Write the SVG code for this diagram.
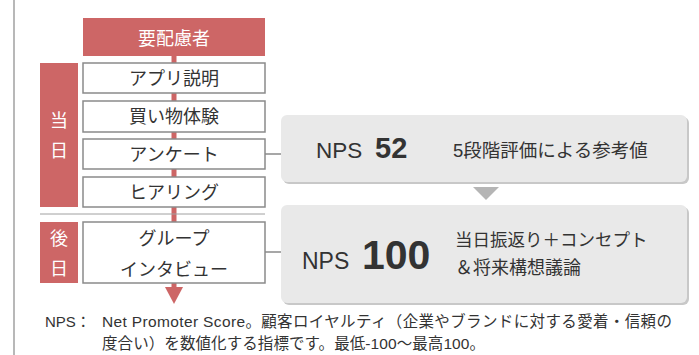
<svg xmlns="http://www.w3.org/2000/svg" width="699" height="355" viewBox="0 0 699 355">
<style>
text{font-family:"Liberation Sans","Noto Sans CJK JP",sans-serif;fill:#333}
.red{fill:#CD6666}
.box{fill:#fff;stroke:#8a8a8a;stroke-width:1.5}
.lbl{font-size:18px;text-anchor:middle}
.side{font-size:18px;text-anchor:middle;fill:#fff}
.nps{fill:#E9E9E9}
.sh{fill:#c8c8c8}
.gl{stroke:#8a8a8a;stroke-width:1.5;fill:none}
</style>
<line x1="14" y1="0" x2="14" y2="355" stroke="#a0a0a0" stroke-width="1.5"/>
<g id="connectors">
<line x1="174" y1="56" x2="174" y2="288" stroke="#CD6666" stroke-width="5"/>
<polygon points="165,287 183,287 174,304" class="red"/>
<line class="gl" x1="265" y1="154" x2="282" y2="154"/>
<line class="gl" x1="265" y1="252" x2="282" y2="252"/>
<polygon points="473,187 499,187 486,200" fill="#b5b5b5"/>
<line x1="40" y1="214" x2="265" y2="214" stroke="#a0a0a0" stroke-width="1"/>
</g>
<g id="header"><rect x="83" y="18" width="182" height="38" class="red"/><text x="174" y="45" class="side">要配慮者</text></g>
<g id="day-same"><rect x="40" y="63" width="38" height="144" class="red"/><text x="59" y="127" class="side">当</text><text x="59" y="157" class="side">日</text></g>
<g id="day-later"><rect x="40" y="222" width="38" height="61" class="red"/><text x="59" y="245" class="side">後</text><text x="59" y="275" class="side">日</text></g>
<g id="app"><rect x="83" y="63" width="182" height="30" class="box"/><text x="174" y="84.5" class="lbl">アプリ説明</text></g>
<g id="shop"><rect x="83" y="101" width="182" height="31" class="box"/><text x="174" y="123" class="lbl">買い物体験</text></g>
<g id="survey"><rect x="83" y="139" width="182" height="30" class="box"/><text x="174" y="160.5" class="lbl">アンケート</text></g>
<g id="hearing"><rect x="83" y="177" width="182" height="30" class="box"/><text x="174" y="198.5" class="lbl">ヒアリング</text></g>
<g id="group"><rect x="83" y="222" width="182" height="61" class="box"/><text x="174" y="244.5" class="lbl">グループ</text><text x="174" y="276" class="lbl">インタビュー</text></g>
<g id="nps52"><rect x="283" y="117" width="406" height="67" rx="6" class="sh"/><rect x="281" y="115" width="406" height="67" rx="6" class="nps"/>
<text x="316" y="158" font-size="22.5">NPS</text><text x="375" y="158" font-size="29" font-weight="bold">52</text>
<text x="453" y="157" font-size="18.5">5段階評価による参考値</text></g>
<g id="nps100"><rect x="283" y="207" width="406" height="98" rx="6" class="sh"/><rect x="281" y="205" width="406" height="98" rx="6" class="nps"/>
<text x="302" y="269" font-size="23">NPS</text><text x="362" y="269" font-size="41" font-weight="bold">100</text>
<text x="455" y="245.5" font-size="17.5">当日振返り＋コンセプト</text><text x="455" y="273.5" font-size="18">＆将来構想議論</text></g>
<g id="note">
<text x="45" y="327" font-size="15">NPS：</text>
<text x="102" y="327" font-size="15.5" textLength="570" lengthAdjust="spacing">Net Promoter Score。顧客ロイヤルティ（企業やブランドに対する愛着・信頼の</text>
<text x="102" y="349" font-size="15.5" textLength="383" lengthAdjust="spacing">度合い）を数値化する指標です。最低-100〜最高100。</text>
</g>
</svg>
